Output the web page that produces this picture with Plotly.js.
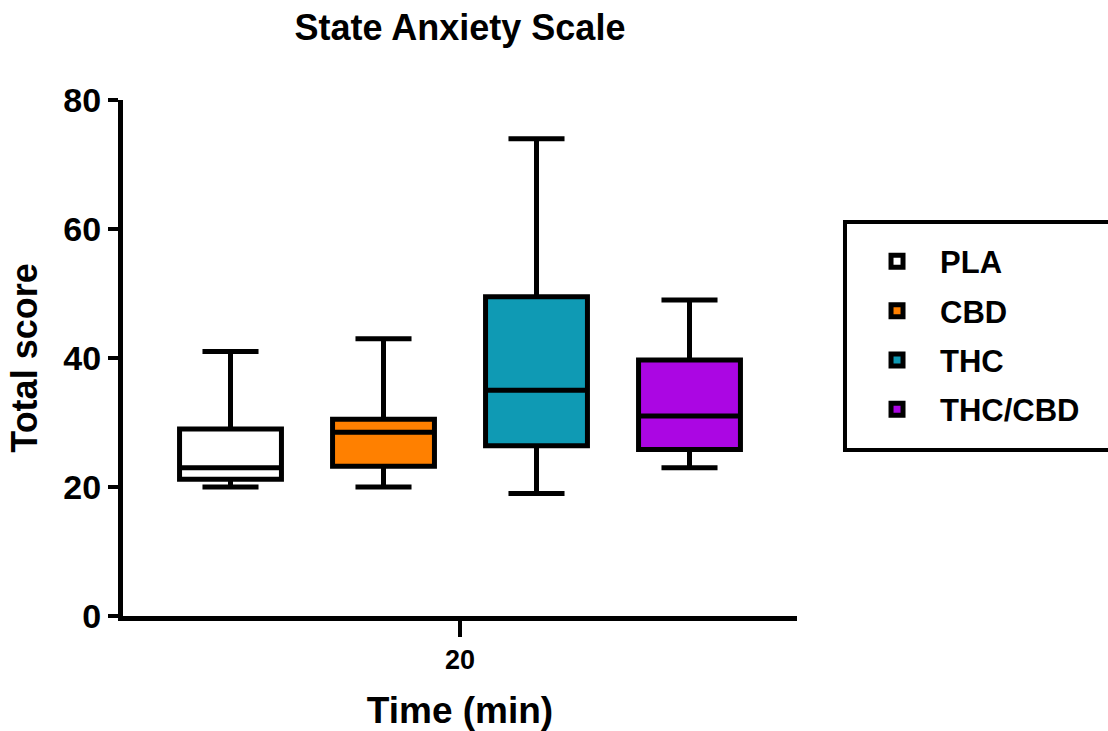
<!DOCTYPE html>
<html>
<head>
<meta charset="utf-8">
<script src="https://cdn.plot.ly/plotly-3.0.1.min.js"></script>
<style>html,body{margin:0;padding:0;background:#fff;}#chart{width:1108px;height:731px;}</style>
</head>
<body>
<div id="chart"></div>
<script>
// Data (Total score at 20 min)
const groups = ["PLA", "CBD", "THC", "THC/CBD"];
const timeLabel = ["20"];
const lowerWhisker = [20, 20, 19, 23];
const q1Values = [21.2, 23.2, 26.4, 25.8];
const medianValues = [23, 28.5, 35, 31];
const q3Values = [29, 30.5, 49.5, 39.7];
const upperWhisker = [41, 43, 74, 49];
const fillColors = ["#FFFFFF", "#FF8000", "#0F9AB4", "#AB06E3"];

const FONT = "Liberation Sans, Arial, Helvetica, sans-serif";

const traces = groups.map((g, i) => ({
  type: "box",
  name: g,
  legendgroup: g,
  x: timeLabel,
  q1: [q1Values[i]],
  median: [medianValues[i]],
  q3: [q3Values[i]],
  lowerfence: [lowerWhisker[i]],
  upperfence: [upperWhisker[i]],
  fillcolor: fillColors[i],
  line: {color: "#000000", width: 5},
  whiskerwidth: 0.55,
  boxpoints: false,
  hoverinfo: "skip"
}));

const layout = {
  width: 1108,
  height: 731,
  paper_bgcolor: "#ffffff",
  plot_bgcolor: "#ffffff",
  margin: {l: 123, r: 311, t: 100, b: 115, autoexpand: false},
  font: {family: FONT, color: "#000000"},
  title: {
    text: "<b>State Anxiety Scale</b>",
    font: {family: FONT, size: 36, color: "#000"},
    x: 0.5, xref: "paper", xanchor: "center",
    y: 0.962, yref: "container", yanchor: "middle"
  },
  boxmode: "group",
  boxgap: 0.092,
  boxgroupgap: 0.334,
  xaxis: {
    type: "category",
    range: [-0.5, 0.5],
    showline: true, linecolor: "#000", linewidth: 5,
    ticks: "outside", ticklen: 16, tickwidth: 4, tickcolor: "#000",
    tickfont: {family: FONT, size: 27, color: "#000", weight: "bold"},
    showgrid: false, zeroline: false,
    title: {text: "<b>Time (min)</b>", font: {family: FONT, size: 37, color: "#000"}},
    fixedrange: true
  },
  yaxis: {
    range: [0, 80],
    tickvals: [0, 20, 40, 60, 80],
    ticktext: ["0", "20", "40", "60", "80"],
    showline: true, linecolor: "#000", linewidth: 5,
    ticks: "outside", ticklen: 10, tickwidth: 4, tickcolor: "#000",
    tickfont: {family: FONT, size: 34, color: "#000", weight: "bold"},
    showgrid: false, zeroline: false,
    title: {text: "<b>Total score</b>", font: {family: FONT, size: 36, color: "#000"}},
    fixedrange: true
  },
  showlegend: true,
  legend: {
    x: 1.0846, xanchor: "left",
    y: 0.739, yanchor: "top",
    bgcolor: "rgba(0,0,0,0)",
    borderwidth: 0,
    font: {family: FONT, size: 31, color: "#000", weight: "bold"},
    traceorder: "grouped",
    tracegroupgap: 6,
    itemwidth: 76
  },
  shapes: [{
    type: "rect", xref: "paper", yref: "paper",
    x0: 1.0712, x1: 1.6, y0: 0.3217, y1: 0.7636,
    line: {color: "#000", width: 4},
    fillcolor: "rgba(0,0,0,0)",
    layer: "below"
  }]
};

Plotly.newPlot("chart", traces, layout, {displayModeBar: false, staticPlot: true});
</script>
</body>
</html>
